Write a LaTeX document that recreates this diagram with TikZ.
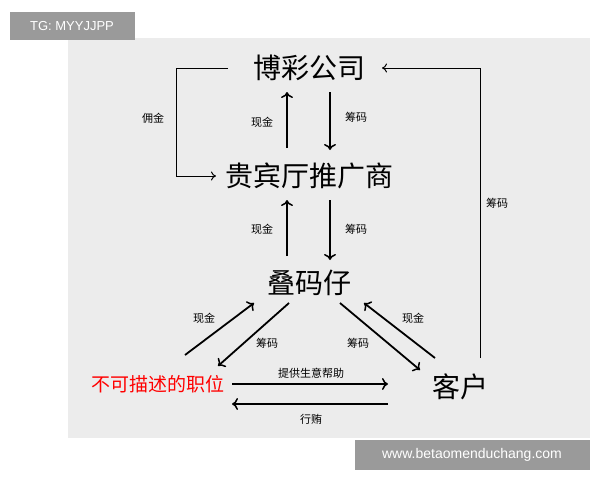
\documentclass[tikz,border=0pt]{standalone}
\usepackage{fontspec}
\newfontfamily\cjk{Noto Sans CJK SC}
\usetikzlibrary{arrows.meta}
\definecolor{panel}{HTML}{ECECEC}
\definecolor{tag}{HTML}{9A9A9A}
\begin{document}
\begin{tikzpicture}[x=1pt,y=-1pt,
  big/.style={font=\cjk\fontsize{28}{30}\selectfont},
  lab/.style={font=\cjk\fontsize{11}{13}\selectfont},
  arr/.style={line width=1.8pt,-{To[length=6pt,width=12pt,line width=1.5pt]}},
  ln/.style={line width=1pt}]
\useasboundingbox (0,0) rectangle (600,480);
\fill[white] (0,0) rectangle (600,480);
\fill[panel] (68,38) rectangle (590,438);
\node[fill=tag,text=white,font=\fontspec{Liberation Sans}\fontsize{13}{15}\selectfont,minimum width=125,minimum height=28] (tg) at (72,26) {TG: MYYJJPP};
\node[fill=tag,text=white,font=\fontspec{Liberation Sans}\fontsize{14}{16}\selectfont,minimum width=235,minimum height=30] (wm) at (472,455) {www.betaomenduchang.com};

\node[big] (bc) at (309,68) {博彩公司};
\node[big] (gb) at (309,176) {贵宾厅推广商};
\node[big] (dm) at (309,283) {叠码仔};
\node[font=\cjk\fontsize{19}{21}\selectfont,text=red] (bk) at (158,384) {不可描述的职位};
\node[big] (kh) at (460,387) {客户};

\coordinate (a1) at (287,148); \coordinate (a2) at (287,92);
\coordinate (b1) at (330,92); \coordinate (b2) at (330,150);
\coordinate (c1) at (287,256); \coordinate (c2) at (287,200);
\coordinate (d1) at (330,200); \coordinate (d2) at (330,260);
\draw[arr] (a1) -- (a2); \draw[arr] (b1) -- (b2);
\draw[arr] (c1) -- (c2); \draw[arr] (d1) -- (d2);
\node[lab] at (262,122) {现金}; \node[lab] at (356,117) {筹码};
\node[lab] at (262,229) {现金}; \node[lab] at (356,229) {筹码};

\coordinate (y1) at (228,68); \coordinate (y2) at (176,68); \coordinate (y3) at (176,176); \coordinate (y4) at (216,176);
\draw[ln,-{To[length=5pt,width=9pt]}] (y1) -- (y2) -- (y3) -- (y4);
\node[lab] at (153,118) {佣金};
\coordinate (z1) at (480,358); \coordinate (z2) at (480,68); \coordinate (z3) at (382,68);
\draw[ln,-{To[length=5pt,width=9pt]}] (z1) -- (z2) -- (z3);
\node[lab] at (497,203) {筹码};

\coordinate (e1) at (185,355); \coordinate (e2) at (254,303);
\coordinate (f1) at (289,303); \coordinate (f2) at (218,366);
\draw[arr] (e1) -- (e2); \draw[arr] (f1) -- (f2);
\node[lab] at (204,318) {现金}; \node[lab] at (267,343) {筹码};
\coordinate (g1) at (340,303); \coordinate (g2) at (420,370);
\coordinate (h1) at (435,358); \coordinate (h2) at (364,303);
\draw[arr] (g1) -- (g2); \draw[arr] (h1) -- (h2);
\node[lab] at (358,343) {筹码}; \node[lab] at (413,318) {现金};

\coordinate (i1) at (232,384); \coordinate (i2) at (388,384);
\coordinate (j1) at (388,404); \coordinate (j2) at (232,404);
\draw[arr] (i1) -- (i2); \draw[arr] (j1) -- (j2);
\node[lab] at (311,373) {提供生意帮助}; \node[lab] at (311,419) {行贿};
\end{tikzpicture}
\end{document}
